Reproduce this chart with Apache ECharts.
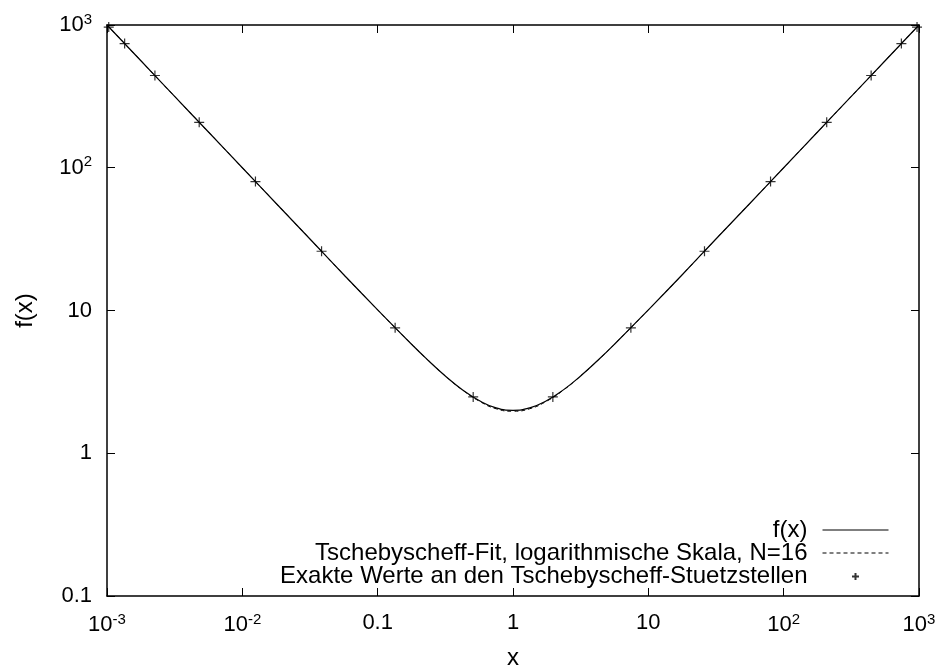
<!DOCTYPE html>
<html>
<head>
<meta charset="utf-8">
<script src="https://cdn.jsdelivr.net/npm/echarts@6/dist/echarts.min.js"></script>
<style>html,body{margin:0;padding:0;background:#fff}#c{width:940px;height:671px}</style>
</head>
<body>
<div id="c"></div>
<script>
// ---- data ----
var curveX = [0.001, 0.00178, 0.00316, 0.00562, 0.01, 0.0178, 0.0316, 0.0562, 0.1, 0.178, 0.237, 0.316, 0.422, 0.562, 0.75, 1, 1.33, 1.78, 2.37, 3.16, 4.22, 5.62, 10, 17.8, 31.6, 56.2, 100, 178, 316, 562, 1000];
var curveY = [1000, 562, 316, 178, 100, 56.2, 31.7, 17.8, 10.1, 5.80, 4.46, 3.48, 2.79, 2.34, 2.08, 2.0, 2.08, 2.34, 2.79, 3.48, 4.46, 5.80, 10.1, 17.8, 31.7, 56.2, 100, 178, 316, 562, 1000];
var fitY   = [1000, 562, 316, 178, 100, 56.2, 31.7, 17.8, 10.1, 5.80, 4.46, 3.48, 2.78, 2.32, 2.05, 1.97, 2.05, 2.32, 2.78, 3.48, 4.46, 5.80, 10.1, 17.8, 31.7, 56.2, 100, 178, 316, 562, 1000];
var nodeX = [0.00103, 0.00135, 0.00226, 0.0048, 0.0125, 0.0385, 0.1346, 0.508, 1.97, 7.43, 26.0, 80.0, 208, 443, 741, 967];
var nodeY = [967, 741, 443, 208, 80.0, 26.0, 7.56, 2.48, 2.48, 7.56, 26.0, 80.0, 208, 443, 741, 967];
var seriesNames = ['f(x)', 'Tschebyscheff-Fit, logarithmische Skala, N=16', 'Exakte Werte an den Tschebyscheff-Stuetzstellen'];
var xTickLabels = {'-3': '{b|10}{s|-3}', '-2': '{b|10}{s|-2}', '-1': '{b|0.1}', '0': '{b|1}', '1': '{b|10}', '2': '{b|10}{s|2}', '3': '{b|10}{s|3}'};
var yTickLabels = {'-1': '{b|0.1}', '0': '{b|1}', '1': '{b|10}', '2': '{b|10}{s|2}', '3': '{b|10}{s|3}'};

function pairs(xs, ys) { return xs.map(function (x, i) { return [x, ys[i]]; }); }

var FONT = 'Liberation Sans, Arial, Helvetica, sans-serif';
var rich = {
  b: { fontSize: 22, fontFamily: FONT, color: '#000' },
  s: { fontSize: 15, fontFamily: FONT, color: '#000', padding: [0, 0, 11, 0] }
};
function fmt(map) {
  return function (v) { var k = String(Math.round(Math.log10(v))); return map[k] || ''; };
}
var plusPath = 'path://M0,0L0,0M20,20L20,20M5,10L15,10M10,5L10,15';
var legendPlus = 'path://M0,0L0,0M66,20L66,20M29.5,10L36.5,10M33,6.5L33,13.5';
var legendSolid = 'path://M0,0L0,0M66,20L66,20M0,9.5L66,9.5L66,10.5L0,10.5Z';
var legendDash = 'path://M0,0L0,0M66,20L66,20' +
  'M0,9.5h4v1h-4Z M7,9.5h4v1h-4Z M14,9.5h4v1h-4Z M21,9.5h4v1h-4Z M28,9.5h4v1h-4Z' +
  'M35,9.5h4v1h-4Z M42,9.5h4v1h-4Z M49,9.5h4v1h-4Z M56,9.5h4v1h-4Z M63,9.5h3v1h-3Z';

var chart = echarts.init(document.getElementById('c'), null, { renderer: 'canvas' });
var axisLine = { show: true, lineStyle: { color: '#000', width: 1.5 } };
var tick = { show: true, inside: true, length: 8, lineStyle: { color: '#000', width: 1 } };
chart.setOption({
  animation: false,
  backgroundColor: '#fff',
  grid: { left: 107, right: 21, top: 25, bottom: 75, containLabel: false, outerBoundsMode: 'none' },
  legend: {
    orient: 'vertical', right: 44, bottom: 77, align: 'right',
    itemWidth: 66, itemHeight: 20, itemGap: -1,
    textStyle: { fontSize: 24, lineHeight: 20, fontFamily: FONT, color: '#000', padding: [0, 10, 0, 0] },
    data: [
      { name: seriesNames[0], icon: legendSolid },
      { name: seriesNames[1], icon: legendDash },
      { name: seriesNames[2], icon: legendPlus }
    ]
  },
  xAxis: [
    { type: 'log', logBase: 10, min: 0.001, max: 1000, splitNumber: 6, position: 'bottom',
      axisLine: axisLine, axisTick: tick, splitLine: { show: false }, minorTick: { show: false },
      axisLabel: { formatter: fmt(xTickLabels), rich: rich, margin: 16 },
      name: 'x', nameLocation: 'middle', nameGap: 50,
      nameTextStyle: { fontSize: 24, fontFamily: FONT, color: '#000' } },
    { type: 'log', logBase: 10, min: 0.001, max: 1000, splitNumber: 6, position: 'top',
      axisLine: axisLine, axisTick: tick, splitLine: { show: false }, axisLabel: { show: false } }
  ],
  yAxis: [
    { type: 'log', logBase: 10, min: 0.1, max: 1000, splitNumber: 4, position: 'left',
      axisLine: axisLine, axisTick: tick, splitLine: { show: false }, minorTick: { show: false },
      axisLabel: { formatter: fmt(yTickLabels), rich: rich, margin: 15 },
      name: 'f(x)', nameLocation: 'middle', nameGap: 70, nameRotate: 90,
      nameTextStyle: { fontSize: 24, fontFamily: FONT, color: '#000' } },
    { type: 'log', logBase: 10, min: 0.1, max: 1000, splitNumber: 4, position: 'right',
      axisLine: axisLine, axisTick: tick, splitLine: { show: false }, axisLabel: { show: false } }
  ],
  series: [
    { name: seriesNames[0], type: 'line', smooth: true, symbol: 'none', data: pairs(curveX, curveY),
      lineStyle: { color: '#000', width: 1.2, type: 'solid' }, itemStyle: { color: '#000' } },
    { name: seriesNames[1], type: 'line', smooth: true, symbol: 'none', data: pairs(curveX, fitY),
      lineStyle: { color: '#000', width: 1, type: [4, 3] }, itemStyle: { color: '#000' } },
    { name: seriesNames[2], type: 'scatter', symbol: plusPath, symbolSize: 20, data: pairs(nodeX, nodeY),
      itemStyle: { color: 'none', borderColor: '#000', borderWidth: 1.2 } }
  ]
});
</script>
</body>
</html>
